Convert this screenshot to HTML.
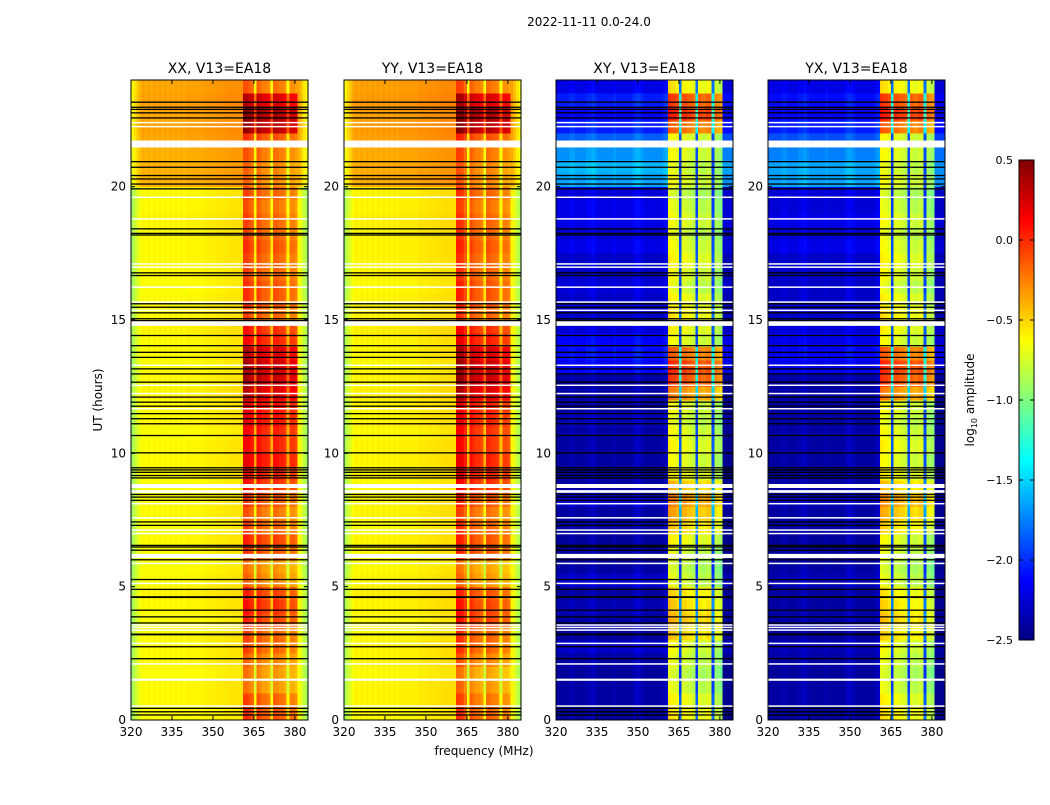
<!DOCTYPE html>
<html><head><meta charset="utf-8"><style>
body{margin:0;background:#fff;}
svg text{font-family:"DejaVu Sans","Liberation Sans",sans-serif;}
</style></head><body>
<svg id="fig" width="1050" height="800" xmlns="http://www.w3.org/2000/svg">
<text x="589" y="26" font-size="12" text-anchor="middle">2022-11-11 0.0-24.0</text>
<text x="484" y="755" font-size="12" text-anchor="middle">frequency (MHz)</text>
<text transform="translate(102,400) rotate(-90)" font-size="12" text-anchor="middle">UT (hours)</text>
<text transform="translate(974,400) rotate(-90)" font-size="12" text-anchor="middle">log<tspan font-size="8" dy="3">10</tspan><tspan dy="-3"> amplitude</tspan></text>
<g id="panels"></g>
<g id="cbar"></g>
</svg>
<script>
const panelTitles=["XX, V13=EA18","YY, V13=EA18","XY, V13=EA18","YX, V13=EA18"];
const xTicks=[320,335,350,365,380];
const yTicks=[0,5,10,15,20];
const cbTicks=[0.5,0.0,-0.5,-1.0,-1.5,-2.0,-2.5];
const cbLabels=["0.5","0.0","\u22120.5","\u22121.0","\u22121.5","\u22122.0","\u22122.5"];
// frequency bins: 1 MHz starting at 320; 0=continuum, 1=band
const colType=[0,0,0,0,0,0,0,0,0,0,0,0,0,0,0,0,0,0,0,0,0,0,0,0,0,0,0,0,0,0,0,0,0,0,0,0,0,0,0,0,0,1,1,1,1,1,1,1,1,1,1,1,1,1,1,1,1,1,1,1,1,0,0,0,0];
const xxBg=[-0.62,-0.6,-0.6,-0.62,-0.6,-0.6,-0.6,-0.62,-0.6,-0.58,-0.6,-0.62,-0.6,-0.6,-0.62,-0.6,-0.6,-0.62,-0.6,-0.6,-0.6,-0.62,-0.6,-0.6,-0.58,-0.6,-0.62,-0.6,-0.6,-0.58,-0.6,-0.6,-0.62,-0.6,-0.6,-0.6,-0.6,-0.58,-0.6,-0.6,-0.38,-0.38,-0.38,-0.35,-0.33,-0.35,-0.33,-0.35];
const xxBand=[-0.1,-0.15,-0.3,-0.3,-0.25,-0.15,-0.15,-0.05,0,-0.05,-0.25,-0.3,-0.1,-0.05,-0.15,-0.2,-0.1,0,0.05,0.1,0.05,0.05,0.1,0.1,0.25,0.3,0.3,0.25,0.05,0,-0.15,-0.1,-0.1,-0.15,-0.15,-0.1,-0.15,-0.15,-0.2,-0.15,-0.25,-0.25,-0.2,-0.1,0.35,0.4,0.25,-0.2];
const xxCol=[-0.3,-0.2,-0.12,-0.05,0,-0.03,0,-0.03,0,-0.03,0,-0.03,0,-0.03,0,-0.03,0,-0.03,0,-0.03,0,0,0,0,0,0,0,0.02,0.02,0.02,0.02,0.03,0.03,0.03,0.04,0.04,0.05,0.05,0.05,0.05,0.05,0.1,0.1,0.05,0,-0.45,0.05,0,-0.05,-0.05,-0.1,-0.45,0,0,-0.05,-0.05,-0.1,-0.45,-0.1,-0.1,-0.15,-0.02,-0.12,-0.22,-0.3];
const yyBg=[-0.6,-0.58,-0.58,-0.6,-0.58,-0.58,-0.6,-0.6,-0.58,-0.56,-0.58,-0.6,-0.58,-0.58,-0.6,-0.58,-0.58,-0.6,-0.58,-0.58,-0.58,-0.6,-0.58,-0.58,-0.56,-0.58,-0.6,-0.58,-0.58,-0.56,-0.58,-0.58,-0.6,-0.58,-0.58,-0.58,-0.58,-0.56,-0.58,-0.58,-0.36,-0.36,-0.36,-0.33,-0.31,-0.33,-0.31,-0.33];
const yyBand=[-0.15,-0.2,-0.3,-0.35,-0.25,-0.15,-0.15,-0.05,-0.05,-0.1,-0.3,-0.35,-0.1,-0.1,-0.15,-0.2,-0.1,0,0.05,0.05,0,0,0.05,0.05,0.25,0.3,0.3,0.25,0.05,0,-0.15,-0.1,-0.1,-0.15,-0.15,-0.1,-0.15,-0.15,-0.2,-0.15,-0.25,-0.25,-0.2,-0.1,0.35,0.4,0.25,-0.2];
const yyCol=[-0.3,-0.2,-0.12,-0.05,0,-0.03,0,-0.03,0,-0.03,0,-0.03,0,-0.03,0,-0.03,0,-0.03,0,-0.03,0,0,0,0,0,0,0,0.02,0.02,0.02,0.02,0.03,0.03,0.03,0.04,0.04,0.05,0.05,0.05,0.05,0.05,0.15,0.15,0.1,0,-0.45,0.05,0,-0.05,-0.05,-0.1,-0.45,0,0,-0.05,-0.05,-0.1,-0.45,-0.1,-0.1,-0.15,-0.02,-0.12,-0.22,-0.3];
const xyBg=[-2.42,-2.4,-2.4,-2.42,-2.4,-2.3,-2.42,-2.4,-2.35,-2.4,-2.3,-2.4,-2.42,-2.42,-2.4,-2.4,-2.3,-2.4,-2.42,-2.4,-2.4,-2.4,-2.35,-2.4,-2.4,-2.4,-2.15,-2.1,-2.15,-2.25,-2.3,-2.3,-2.25,-2.3,-2.3,-2.2,-2.25,-2.2,-2.2,-2.25,-1.65,-1.6,-1.7,-1.85,-2.05,-2.15,-2.05,-2.2];
const xyBand=[-0.6,-0.65,-0.75,-0.8,-0.75,-0.7,-0.5,-0.45,-0.5,-0.55,-0.75,-0.8,-0.75,-0.65,-0.5,-0.4,-0.3,-0.45,-0.65,-0.7,-0.65,-0.7,-0.75,-0.7,-0.3,-0.1,-0.05,-0.2,-0.7,-0.65,-0.6,-0.65,-0.75,-0.7,-0.65,-0.7,-0.75,-0.7,-0.75,-0.8,-0.7,-0.75,-0.7,-0.7,-0.2,0,-0.1,-0.6];
const xyCol=[0,0,0,0,0,0.05,0.05,0,0,0,0,0.05,0.05,0.1,0.05,0,0,0,0,0,0,0.05,0,0,0,0,0,0,0.05,0.1,0.1,0.05,0,0,0,0,0,0,0,0.05,0.1,0.1,0.05,0.05,0,-1.2,0,0,-0.05,-0.05,-0.1,-1.2,-0.05,-0.1,-0.1,-0.05,-0.05,-1.2,-0.15,-0.2,-0.25,-0.05,-0.05,-0.05,-0.05];
const yxBg=[-2.42,-2.4,-2.4,-2.42,-2.4,-2.35,-2.42,-2.4,-2.4,-2.4,-2.35,-2.4,-2.42,-2.42,-2.4,-2.4,-2.35,-2.4,-2.42,-2.4,-2.4,-2.4,-2.4,-2.4,-2.4,-2.4,-2.2,-2.15,-2.2,-2.25,-2.3,-2.3,-2.3,-2.3,-2.3,-2.2,-2.25,-2.2,-2.25,-2.25,-1.65,-1.65,-1.75,-1.9,-2.05,-2.15,-2.1,-2.2];
const yxBand=[-0.6,-0.65,-0.75,-0.8,-0.75,-0.7,-0.55,-0.5,-0.55,-0.6,-0.75,-0.8,-0.75,-0.7,-0.55,-0.45,-0.35,-0.5,-0.65,-0.7,-0.65,-0.7,-0.75,-0.7,-0.3,-0.1,-0.05,-0.2,-0.7,-0.65,-0.6,-0.65,-0.75,-0.7,-0.65,-0.7,-0.75,-0.7,-0.75,-0.8,-0.7,-0.75,-0.7,-0.7,-0.2,0,-0.1,-0.6];
const yxCol=xyCol;
const blackLines=[23.17,22.98,22.9,22.77,22.58,20.94,20.73,20.42,20.29,20.1,19.92,18.42,18.25,18.19,16.77,16.67,15.61,15.48,15.27,15.05,14.98,14.42,14.04,13.79,13.6,13.17,12.98,12.67,12.11,11.92,11.77,11.49,11.3,11.11,10.67,10.02,9.46,9.38,9.29,9.17,9.08,8.46,8.36,8.24,7.43,7.3,6.55,6.49,6.37,6.01,5.27,4.9,4.62,4.6,4.12,3.87,3.64,3.22,3.2,2.75,2.3,0.44,0.31,0.19];
const whiteStart=[22.38,22.23,21.47,19.58,18.77,17.08,16.96,16.21,15.65,15.34,14.78,13.28,12.53,12.22,11.65,8.7,8.52,8.09,7.56,7.1,6.97,6.07,5.85,5.1,3.54,3.45,3.35,2.85,2.08,1.47,0.5];
const whiteDur=[0.05,0.05,0.26,0.05,0.05,0.05,0.05,0.05,0.05,0.05,0.18,0.05,0.05,0.05,0.05,0.15,0.1,0.05,0.05,0.05,0.05,0.16,0.05,0.05,0.05,0.05,0.05,0.05,0.05,0.08,0.05];
const bgs=[xxBg,yyBg,xyBg,yxBg], bands=[xxBand,yyBand,xyBand,yxBand], cols=[xxCol,yyCol,xyCol,yxCol];
const panelX=[131,344,556,768], PW=177, PT=80, PB=720;
const fMin=320,fMax=384.8,tMax=24;
const NS="http://www.w3.org/2000/svg";
function jet(v){let t=(v+2.5)/3;t=Math.max(0,Math.min(1,t));
 const r=Math.max(0,Math.min(1,1.5-Math.abs(4*t-3))),g=Math.max(0,Math.min(1,1.5-Math.abs(4*t-2))),b=Math.max(0,Math.min(1,1.5-Math.abs(4*t-1)));
 return `rgb(${Math.round(r*255)},${Math.round(g*255)},${Math.round(b*255)})`;}
function mk(tag,attrs,parent){const e=document.createElementNS(NS,tag);for(const k in attrs)e.setAttribute(k,attrs[k]);parent.appendChild(e);return e;}
const root=document.getElementById('panels');
panelTitles.forEach((title,p)=>{
 const x0=panelX[p];
 const sx=f=>x0+(f-fMin)/(fMax-fMin)*PW;
 const sy=h=>PB-h/tMax*(PB-PT);
 const g=mk('g',{},root);
 
 
 const cg=mk('g',{'shape-rendering':'crispEdges'},g);
 
 
 const nr=bgs[p].length;
 for(let r=0;r<nr;r++){
  for(let c=0;c<colType.length;c++){
   const f0=fMin+c, f1=Math.min(fMin+c+1,fMax);
   if(f0>=fMax)continue;
   const v=(colType[c]?bands[p][r]:bgs[p][r])+cols[p][c];
   const ya=sy((r+1)*0.5), yb=sy(r*0.5);
   const rc=mk('rect',{x:sx(f0).toFixed(2),y:ya.toFixed(2),width:(sx(f1)-sx(f0)+0.3).toFixed(2),height:(yb-ya+0.3).toFixed(2),fill:jet(v)},cg);
   
   
  }
 }
 whiteStart.forEach((h,i)=>{
  const ya=sy(h+whiteDur[i]), yb=sy(h);
  const w=mk('rect',{x:x0,y:ya.toFixed(2),width:PW,height:Math.max(1.5,yb-ya).toFixed(2),fill:'#fff'},g);
  
  
 });
 blackLines.forEach(h=>{
  const l=mk('rect',{x:x0,y:(sy(h)-0.6).toFixed(2),width:PW,height:1.3,fill:'#000'},g);
  
  
 });
 const fr=mk('rect',{x:x0,y:PT,width:PW,height:PB-PT,fill:'none',stroke:'#000','stroke-width':1},g);
 
 
 xTicks.forEach(t=>{
  const x=sx(t);
  mk('line',{x1:x,x2:x,y1:PB,y2:PB-4,stroke:'#000'},g);
  mk('line',{x1:x,x2:x,y1:PT,y2:PT+4,stroke:'#000'},g);
  const tx=mk('text',{x:x,y:PB+16,'font-size':12,'text-anchor':'middle'},g);
  tx.textContent=t;
  
  
 });
 yTicks.forEach(t=>{
  const y=sy(t);
  mk('line',{x1:x0,x2:x0+4,y1:y,y2:y,stroke:'#000'},g);
  mk('line',{x1:x0+PW,x2:x0+PW-4,y1:y,y2:y,stroke:'#000'},g);
  const tx=mk('text',{x:x0-5,y:y+4,'font-size':12,'text-anchor':'end'},g);
  tx.textContent=t;
  
  
 });
 const tt=mk('text',{x:x0+PW/2,y:PT-7,'font-size':14,'text-anchor':'middle'},g);
 tt.textContent=title;
 
 
});
// colorbar
const cb=document.getElementById('cbar');
const cbTop=160,cbBot=640,cbX=1019,cbW=15;
const cy=v=>cbBot-(v+2.5)/3*(cbBot-cbTop);
const cgs=mk('g',{'shape-rendering':'crispEdges'},cb);
for(let i=0;i<240;i++){
 const v=-2.5+(i+0.5)/240*3;
 mk('rect',{x:cbX,y:(cy(-2.5+(i+1)/240*3)).toFixed(2),width:cbW,height:2.3,fill:jet(v)},cgs);
}
mk('rect',{x:cbX,y:cbTop,width:cbW,height:cbBot-cbTop,fill:'none',stroke:'#000'},cb);
cbTicks.forEach((t,i)=>{
 const y=cy(t);
 mk('line',{x1:cbX+cbW,x2:cbX+cbW-4,y1:y,y2:y,stroke:'#000'},cb);
 mk('line',{x1:cbX,x2:cbX+4,y1:y,y2:y,stroke:'#000'},cb);
 const tx=mk('text',{x:cbX-6,y:y+4,'font-size':11,'text-anchor':'end'},cb);
 tx.textContent=cbLabels[i];
 
 
});
</script>
</body></html>
